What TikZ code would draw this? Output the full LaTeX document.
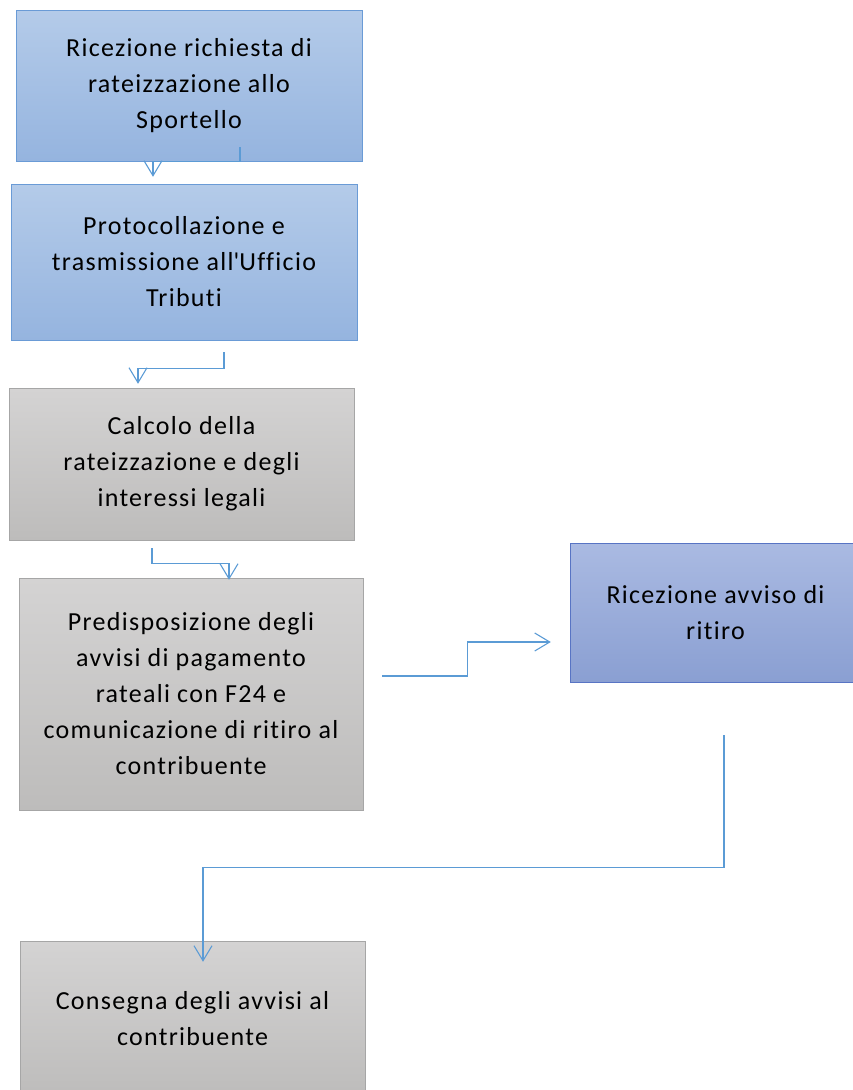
\documentclass[tikz,border=0pt]{standalone}
\usepackage{fontspec}
\setmainfont{Carlito}[Ligatures=NoCommon, LetterSpace=5]
\usetikzlibrary{arrows.meta}
\definecolor{bluetop}{HTML}{B4CBE9}
\definecolor{bluebot}{HTML}{95B4DF}
\definecolor{blueline}{HTML}{6A9BD6}
\definecolor{purptop}{HTML}{AABAE2}
\definecolor{purpbot}{HTML}{8A9FD2}
\definecolor{purpline}{HTML}{5874C4}
\definecolor{graytop}{HTML}{D4D3D3}
\definecolor{graybot}{HTML}{BDBCBB}
\definecolor{grayline}{HTML}{A6A6A6}
\definecolor{conncol}{HTML}{5B9BD5}
\begin{document}
\begin{tikzpicture}[x=1pt, y=-1pt,
  box/.style={rectangle, align=center, inner sep=0pt,
    font=\fontsize{26}{36}\selectfont},
  bluebox/.style={box, draw=blueline, top color=bluetop, bottom color=bluebot},
  purpbox/.style={box, draw=purpline, top color=purptop, bottom color=purpbot},
  graybox/.style={box, draw=grayline, top color=graytop, bottom color=graybot},
  conn/.style={draw=conncol, line width=1.1pt, -{Straight Barb[length=15pt, width=18pt, line width=1.1pt]}}]
  \useasboundingbox (0,0) rectangle (853,1090);
  \clip (0,0) rectangle (853,1090);

  \node[bluebox, minimum width=346pt, minimum height=151pt] (ricezione) at (189,85.5)
    {Ricezione richiesta di\\rateizzazione allo\\Sportello};
  \node[bluebox, minimum width=346pt, minimum height=156pt] (protocollo) at (184,262)
    {Protocollazione e\\trasmissione all\textquotesingle Ufficio\\Tributi};
  \node[graybox, minimum width=345pt, minimum height=152pt] (calcolo) at (181.5,464)
    {Calcolo della\\rateizzazione e degli\\interessi legali};
  \node[graybox, minimum width=344pt, minimum height=232pt] (avvisi) at (191,694)
    {Predisposizione degli\\avvisi di pagamento\\rateali con F24 e\\comunicazione di ritiro al\\contribuente};
  \node[purpbox, minimum width=291pt, minimum height=139pt] (ritiro) at (715.5,612.5)
    {Ricezione avviso di\\ritiro};
  \node[graybox, minimum width=345pt, minimum height=156pt] (consegna) at (192.5,1019)
    {Consegna degli avvisi al\\contribuente};

  % connettori
  \draw[conn] ([xshift=51pt, yshift=14pt]ricezione.south) -- ++(0,14)
    -| ([xshift=-31pt, yshift=7pt]protocollo.north);
  \draw[conn] ([xshift=40pt, yshift=-12pt]protocollo.south) -- ++(0,16)
    -| ([xshift=-43.5pt, yshift=4pt]calcolo.north);
  \draw[conn] ([xshift=-29.5pt, yshift=-8pt]calcolo.south) -- ++(0,15)
    -| ([xshift=38pt, yshift=-2pt]avvisi.north);
  \draw[conn] ([xshift=19pt, yshift=18pt]avvisi.east) -- ++(85,0)
    |- ([xshift=-19pt, yshift=-29.5pt]ritiro.west);
  \draw[conn] ([xshift=8.5pt, yshift=-53pt]ritiro.south) -- ++(0,132)
    -| ([xshift=10.5pt, yshift=-21pt]consegna.north);
\end{tikzpicture}
\end{document}
